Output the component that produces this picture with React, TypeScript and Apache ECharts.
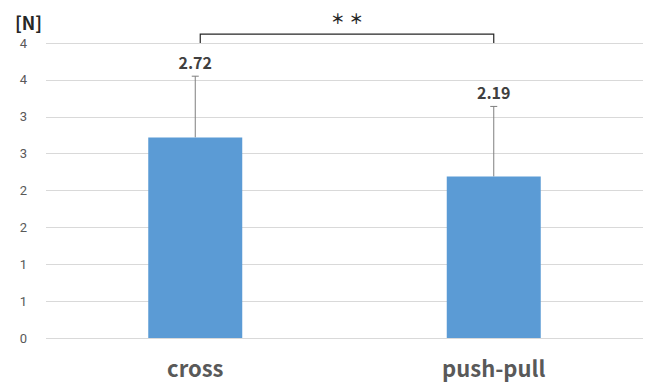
import React, { useEffect, useRef } from "react";
import * as echarts from "echarts";

const categories = ["cross", "push-pull"];
const meanValues = [2.72, 2.19];
const errorValues = [0.83, 0.95];
const yTickLabels = ["0", "1", "1", "2", "2", "3", "3", "4", "4"];
const bracketPair = [0, 1];
const bracketLevel = 4.12;
const bracketFoot = 4.0;
const significanceMarks = ["＊", "＊"];
const unitLabel = "[N]";

const FONT = "'Noto Sans CJK JP', 'Noto Sans', sans-serif";

export default function App() {
  const ref = useRef<HTMLDivElement>(null);
  useEffect(() => {
    if (!ref.current) return;
    const chart = echarts.init(ref.current, null, { renderer: "svg" });
    chart.setOption({
      animation: false,
      backgroundColor: "#ffffff",
      textStyle: { fontFamily: FONT },
      title: {
        text: unitLabel,
        left: 10,
        top: 8,
        textStyle: { fontSize: 18, fontWeight: "bold", color: "#262626", fontFamily: FONT },
      },
      grid: { left: 46, right: 6, top: 43, bottom: 45, containLabel: false },
      xAxis: {
        type: "category",
        data: categories,
        axisLine: { show: false },
        axisTick: { show: false },
        axisLabel: {
          color: "#595959",
          fontSize: 22,
          fontWeight: "bold",
          margin: 18,
          fontFamily: FONT,
        },
      },
      yAxis: {
        type: "value",
        min: 0,
        max: 4,
        interval: 0.5,
        axisLine: { show: false },
        axisTick: { show: false },
        splitLine: { lineStyle: { color: "#d9d9d9", width: 1 } },
        axisLabel: {
          color: "#595959",
          fontSize: 13,
          margin: 19,
          fontFamily: "Roboto, sans-serif",
          formatter: (v: number) => yTickLabels[Math.round(v / 0.5)] ?? "",
        },
      },
      series: [
        {
          type: "bar",
          data: meanValues,
          barWidth: 94,
          itemStyle: { color: "#5b9bd5" },
        },
        {
          type: "custom",
          clip: false,
          data: categories.map((_, i) => [i, meanValues[i], errorValues[i]]),
          renderItem: (params: any, api: any) => {
            const x = api.value(0);
            const v = api.value(1);
            const e = api.value(2);
            const base = api.coord([x, v]);
            const top = api.coord([x, v + e]);
            const stroke = "#7f7f7f";
            return {
              type: "group",
              children: [
                {
                  type: "line",
                  shape: { x1: base[0], y1: base[1], x2: top[0], y2: top[1] },
                  style: { stroke, lineWidth: 1 },
                },
                {
                  type: "line",
                  shape: { x1: top[0] - 3.5, y1: top[1], x2: top[0] + 3.5, y2: top[1] },
                  style: { stroke, lineWidth: 1 },
                },
                {
                  type: "text",
                  x: top[0],
                  y: top[1] - 14.5,
                  style: {
                    text: v.toFixed(2),
                    fill: "#404040",
                    fontSize: 16,
                    fontWeight: "bold",
                    fontFamily: FONT,
                    align: "center",
                    verticalAlign: "middle",
                  },
                },
              ],
            };
          },
        },
        {
          type: "custom",
          clip: false,
          data: [[bracketPair[0], bracketPair[1], bracketLevel, bracketFoot]],
          renderItem: (params: any, api: any) => {
            const a = api.coord([api.value(0), api.value(2)]);
            const b = api.coord([api.value(1), api.value(2)]);
            const foot = api.coord([api.value(0), api.value(3)]);
            const ax = a[0] + 5;
            const bx = b[0];
            const mid = (ax + bx) / 2;
            const n = significanceMarks.length;
            const stars = significanceMarks.map((s, i) => ({
              type: "text",
              x: mid + (i - (n - 1) / 2) * 18.5,
              y: a[1] - 16,
              style: {
                text: s,
                fill: "#262626",
                fontSize: 14,
                fontWeight: "bold",
                fontFamily: FONT,
                align: "center",
                verticalAlign: "middle",
              },
            }));
            return {
              type: "group",
              children: [
                {
                  type: "polyline",
                  shape: {
                    points: [
                      [ax, foot[1]],
                      [ax, a[1]],
                      [bx, a[1]],
                      [bx, foot[1]],
                    ],
                  },
                  style: { stroke: "#262626", lineWidth: 1.2, fill: "none" },
                },
                ...stars,
              ],
            };
          },
        },
      ],
    });
    return () => chart.dispose();
  }, []);
  return (
    <div
      ref={ref}
      style={{ position: "absolute", left: 0, top: 0, width: 649, height: 383 }}
    />
  );
}
